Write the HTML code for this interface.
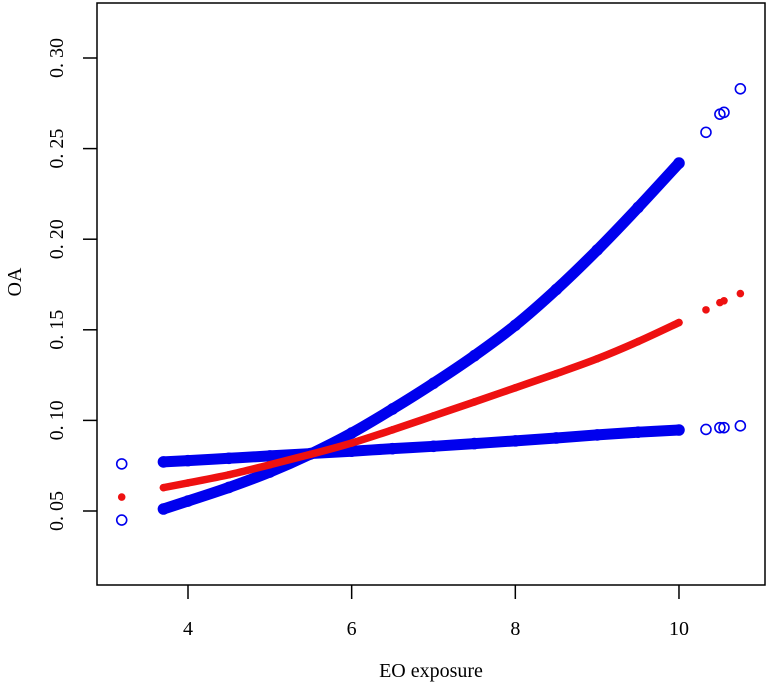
<!DOCTYPE html>
<html><head><meta charset="utf-8"><style>
html,body{margin:0;padding:0;background:#fff;}
svg{display:block;font-family:"Liberation Serif",serif;}
</style></head><body>
<svg id="chart" width="768" height="687" viewBox="0 0 768 687"></svg>
<script>
const xs = [3.7,4,4.5,5,5.5,6,6.5,7,7.5,8,8.5,9,9.5,10];
const upperVals = [0.0511,0.0555,0.063,0.0715,0.0815,0.093,0.1063,0.1205,0.1357,0.1525,0.1722,0.194,0.2175,0.242];
const fitVals = [0.0629,0.0655,0.070,0.0755,0.0813,0.0875,0.0948,0.1025,0.1102,0.118,0.1258,0.134,0.1435,0.154];
const lowerVals = [0.0771,0.0778,0.0791,0.0804,0.0817,0.0830,0.0844,0.0857,0.0872,0.0887,0.0903,0.092,0.0935,0.0947];
const outX = [3.19,10.33,10.5,10.55,10.75];
const outUpper = [0.045,0.259,0.269,0.27,0.283];
const outFit = [0.0577,0.161,0.165,0.166,0.17];
const outLower = [0.076,0.095,0.096,0.096,0.097];
const xTicks = [4,6,8,10];
const yTicks = [0.05,0.10,0.15,0.20,0.25,0.30];
const yTickLabels = ["0. 05","0. 10","0. 15","0. 20","0. 25","0. 30"];

const NS="http://www.w3.org/2000/svg";
const svg=document.getElementById('chart');
const L=97,R=765,T=3,B=585;
function sx(v){return 188+(v-4)*81.83;}
function sy(v){return 511-(v-0.05)*1812;}
function mk(tag,attrs,parent){const e=document.createElementNS(NS,tag);for(const k in attrs)e.setAttribute(k,attrs[k]);(parent||svg).appendChild(e);return e;}

const box=mk('rect',{x:L,y:T,width:R-L,height:B-T,fill:'none',stroke:'#000','stroke-width':1.5});



xTicks.forEach(t=>{
  const g=mk('g',{});
  
  
  mk('line',{x1:sx(t),x2:sx(t),y1:B,y2:B+14,stroke:'#000','stroke-width':1.5},g);
  const tx=mk('text',{x:sx(t),y:635,'text-anchor':'middle','font-size':20},g);
  tx.textContent=t;
});
yTicks.forEach((t,i)=>{
  const g=mk('g',{});
  
  
  mk('line',{x1:L-14,x2:L,y1:sy(t),y2:sy(t),stroke:'#000','stroke-width':1.5},g);
  const tx=mk('text',{x:0,y:0,'text-anchor':'middle','font-size':20,transform:`translate(63,${sy(t)}) rotate(-90)`},g);
  tx.textContent=yTickLabels[i];
});
const xt=mk('text',{x:431,y:677,'text-anchor':'middle','font-size':20});


xt.textContent='EO exposure';
const yt=mk('text',{x:0,y:0,'text-anchor':'middle','font-size':20,transform:'translate(21,282) rotate(-90)'});


yt.textContent='OA';

function smoothPath(P){
  let d='M'+P[0][0]+','+P[0][1];
  for(let i=0;i<P.length-1;i++){
    const p0=P[Math.max(0,i-1)],p1=P[i],p2=P[i+1],p3=P[Math.min(P.length-1,i+2)];
    const c1=[p1[0]+(p2[0]-p0[0])/6,p1[1]+(p2[1]-p0[1])/6];
    const c2=[p2[0]-(p3[0]-p1[0])/6,p2[1]-(p3[1]-p1[1])/6];
    d+=' C'+c1[0]+','+c1[1]+' '+c2[0]+','+c2[1]+' '+p2[0]+','+p2[1];
  }
  return d;
}
function series(name,vals,ox,ov,color,filled,w){
  const g=mk('g',{});
  
  
  const P=xs.map((x,i)=>[sx(x),sy(vals[i])]);
  mk('path',{d:smoothPath(P),fill:'none',stroke:color,'stroke-width':w,'stroke-linecap':'round','stroke-linejoin':'round'},g);
  const all=xs.map((x,i)=>[x,vals[i]]).concat(ox.map((x,i)=>[x,ov[i]]));
  all.forEach(p=>{
    const c=filled?mk('circle',{cx:sx(p[0]),cy:sy(p[1]),r:3.8,fill:color},g)
                  :mk('circle',{cx:sx(p[0]),cy:sy(p[1]),r:5,fill:'none',stroke:color,'stroke-width':1.6},g);
    
    
  });
}
series('upper-ci-series',upperVals,outX,outUpper,'#0000ee',false,11);
series('lower-ci-series',lowerVals,outX,outLower,'#0000ee',false,11);
series('fit-series',fitVals,outX,outFit,'#ee1111',true,7.5);
</script>
</body></html>
